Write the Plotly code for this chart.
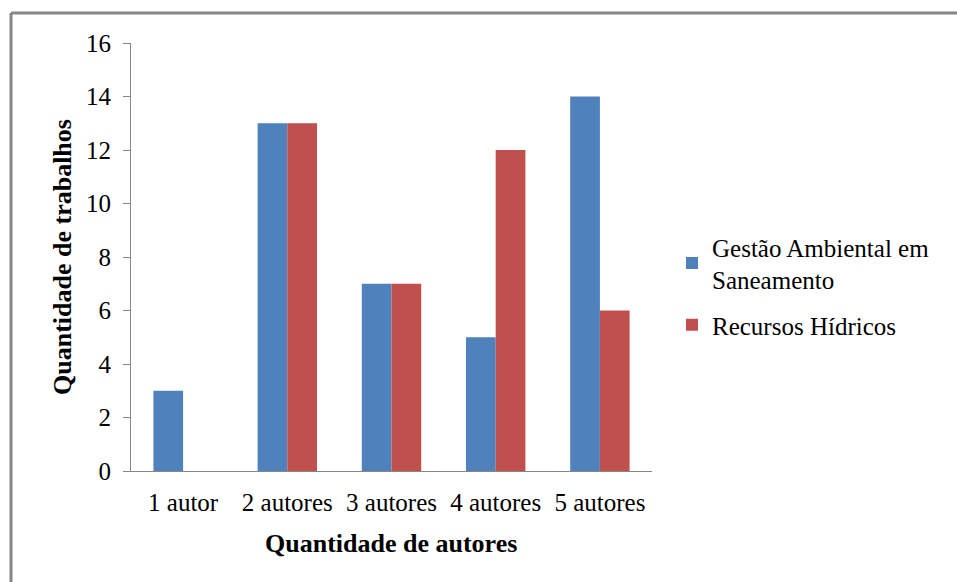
import plotly.graph_objects as go

categorias = ["1 autor", "2 autores", "3 autores", "4 autores", "5 autores"]
gestao_ambiental = [3, 13, 7, 5, 14]
recursos_hidricos = [0, 13, 7, 12, 6]
y_ticks = [0, 2, 4, 6, 8, 10, 12, 14, 16]

FONT = "Liberation Serif"
AXIS_GRAY = "#868686"

fig = go.Figure()
fig.add_trace(go.Bar(
    x=categorias, y=gestao_ambiental,
    name="Gestão Ambiental em<br>Saneamento", legendgroup="g1",
    marker=dict(color="#4F81BD", line=dict(width=0)),
))
fig.add_trace(go.Bar(
    x=categorias, y=recursos_hidricos,
    name="Recursos Hídricos", legendgroup="g2",
    marker=dict(color="#C0504D", line=dict(width=0)),
))

W, H = 957, 582
L, R, T, B = 131, 305, 43, 111
pw, ph = W - L - R, H - T - B

def px_x(p):
    return (p - L) / pw

def px_y(p):
    return (H - B - p) / ph

fig.update_layout(
    width=W, height=H,
    margin=dict(l=L, r=R, t=T, b=B, pad=0),
    paper_bgcolor="white", plot_bgcolor="white",
    barmode="group", bargap=0.43, bargroupgap=0,
    font=dict(family=FONT, size=25, color="black"),
    showlegend=True,
    legend=dict(
        x=px_x(672), y=px_y(224), xanchor="left", yanchor="top",
        font=dict(family=FONT, size=25, color="black"),
        itemwidth=30, traceorder="grouped", tracegroupgap=10,
        bgcolor="rgba(0,0,0,0)",
    ),
    xaxis=dict(
        showline=True, linecolor=AXIS_GRAY, linewidth=1,
        ticks="", showgrid=False,
        tickfont=dict(family=FONT, size=25, color="black"),
        ticklabelstandoff=9,
    ),
    yaxis=dict(
        range=[0, 16], tickvals=y_ticks,
        showline=True, linecolor=AXIS_GRAY, linewidth=1,
        ticks="outside", ticklen=7, tickcolor=AXIS_GRAY,
        showgrid=False, zeroline=False,
        tickfont=dict(family=FONT, size=25, color="black"),
        ticklabelstandoff=7,
    ),
    annotations=[
        dict(text="<b>Quantidade de trabalhos</b>", textangle=-90,
             xref="paper", yref="paper", x=px_x(62), y=px_y(257),
             xanchor="center", yanchor="middle", showarrow=False,
             font=dict(family=FONT, size=26, color="black")),
        dict(text="<b>Quantidade de autores</b>",
             xref="paper", yref="paper", x=px_x(391), y=px_y(543),
             xanchor="center", yanchor="middle", showarrow=False,
             font=dict(family=FONT, size=26, color="black")),
    ],
    shapes=[
        dict(type="line", xref="paper", yref="paper",
             x0=px_x(11), x1=px_x(W + 5), y0=px_y(13), y1=px_y(13),
             line=dict(color=AXIS_GRAY, width=3)),
        dict(type="line", xref="paper", yref="paper",
             x0=px_x(11), x1=px_x(11), y0=px_y(13), y1=px_y(H + 5),
             line=dict(color=AXIS_GRAY, width=3)),
    ],
)

fig.write_html("out.html")
